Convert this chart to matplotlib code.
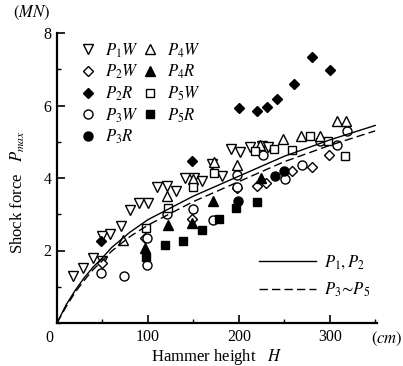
import matplotlib
matplotlib.use("Agg")
import matplotlib.pyplot as plt
from matplotlib.ticker import MultipleLocator

plt.rcParams['font.family'] = ['Liberation Serif', 'DejaVu Serif']
plt.rcParams['mathtext.fontset'] = 'stix'

# ---- data ----
P1W_x = [18, 29, 40, 49, 49, 58, 70, 80, 90, 100, 110, 121, 131, 141, 151, 160, 171, 182, 191, 201, 212, 225, 232]
P1W_y = [1.29, 1.52, 1.80, 1.72, 2.40, 2.45, 2.68, 3.12, 3.31, 3.30, 3.74, 3.79, 3.64, 4.00, 3.99, 3.93, 4.39, 4.06, 4.80, 4.71, 4.85, 4.88, 4.85]

P2W_x = [49, 97, 149, 198, 220, 230, 259, 280, 299]
P2W_y = [1.65, 2.35, 2.86, 3.72, 3.77, 3.87, 4.18, 4.29, 4.63]

P2R_x = [48, 149, 200, 220, 231, 242, 261, 280, 300]
P2R_y = [2.27, 4.48, 5.94, 5.84, 5.96, 6.17, 6.59, 7.35, 6.98]

P3W_x = [48, 74, 99, 99, 121, 150, 172, 198, 198, 227, 251, 270, 289, 308, 319]
P3W_y = [1.38, 1.29, 1.59, 2.35, 3.00, 3.14, 2.84, 3.74, 4.08, 4.64, 3.97, 4.37, 5.02, 4.90, 5.31]

P3R_x = [199, 240, 250]
P3R_y = [3.37, 4.05, 4.19]

P4W_x = [73, 121, 150, 173, 198, 223, 249, 268, 289, 308, 318]
P4W_y = [2.29, 3.50, 3.97, 4.45, 4.37, 4.90, 5.08, 5.15, 5.15, 5.56, 5.56]

P4R_x = [97, 122, 149, 172, 224]
P4R_y = [2.07, 2.70, 2.77, 3.37, 4.00]

P5W_x = [98, 122, 150, 173, 218, 239, 259, 278, 298, 317]
P5W_y = [2.62, 3.18, 3.74, 4.13, 4.74, 4.80, 4.76, 5.16, 5.02, 4.62]

P5R_x = [98, 119, 139, 159, 178, 197, 220]
P5R_y = [1.82, 2.14, 2.26, 2.57, 2.88, 3.18, 3.34]

# fitted curves, points
curve_x = [0, 10, 20, 30, 40, 50, 60, 80, 100, 150, 200, 250, 300, 350]
curve12_y = [0, 0.50, 0.90, 1.25, 1.55, 1.80, 2.08, 2.50, 2.85, 3.50, 4.05, 4.60, 5.05, 5.45]
curve35_y = [0, 0.45, 0.85, 1.18, 1.48, 1.72, 1.98, 2.38, 2.70, 3.35, 3.90, 4.45, 4.90, 5.30]

x_ticks = [0, 100, 200, 300]
y_ticks = [2, 4, 6, 8]

fig = plt.figure(figsize=(4.03, 3.66), dpi=100)
ax = fig.add_axes([57/403, 1-323/366, 320/403, 290/366])

ms = 6.5
kw_open = dict(linestyle='none', markerfacecolor='white', markeredgecolor='black', markeredgewidth=1.0, markersize=ms)
kw_fill = dict(linestyle='none', color='black', markersize=ms)

h = {}
h['P1W'], = ax.plot(P1W_x, P1W_y, marker='v', label=r'$P_1W$', **kw_open)
h['P2W'], = ax.plot(P2W_x, P2W_y, marker='D', label=r'$P_2W$', **{**kw_open, 'markersize': ms - 1})
h['P2R'], = ax.plot(P2R_x, P2R_y, marker='D', label=r'$P_2R$', **{**kw_fill, 'markersize': ms - 1})
h['P3W'], = ax.plot(P3W_x, P3W_y, marker='o', label=r'$P_3W$', **kw_open)
h['P3R'], = ax.plot(P3R_x, P3R_y, marker='o', label=r'$P_3R$', **kw_fill)
h['P4W'], = ax.plot(P4W_x, P4W_y, marker='^', label=r'$P_4W$', **kw_open)
h['P4R'], = ax.plot(P4R_x, P4R_y, marker='^', label=r'$P_4R$', **kw_fill)
h['P5W'], = ax.plot(P5W_x, P5W_y, marker='s', label=r'$P_5W$', **{**kw_open, 'markersize': ms - 1})
h['P5R'], = ax.plot(P5R_x, P5R_y, marker='s', label=r'$P_5R$', **{**kw_fill, 'markersize': ms - 1})

l1, = ax.plot(curve_x, curve12_y, color='black', lw=1.0, label=r'$P_1, P_2$')
l2, = ax.plot(curve_x, curve35_y, color='black', lw=1.0, ls=(0, (6, 3)), label=r'$P_3\!\sim\! P_5$')

order = ['P1W', 'P2W', 'P2R', 'P3W', 'P3R', 'P4W', 'P4R', 'P5W', 'P5R']
leg1 = ax.legend([h[k] for k in order], [h[k].get_label() for k in order], ncol=2,
                 loc='upper left', bbox_to_anchor=(0.05, 0.995), frameon=False,
                 fontsize=12, handlelength=1.0, handletextpad=0.5, columnspacing=0.2,
                 labelspacing=0.2, borderaxespad=0.0)
ax.add_artist(leg1)
ax.legend([l1, l2], [l1.get_label(), l2.get_label()], loc='lower right',
          bbox_to_anchor=(1.0, 0.06), frameon=False, fontsize=12, handlelength=3.4,
          handletextpad=0.5, labelspacing=0.55, borderaxespad=0.0)

ax.set_xlim(0, 352)
ax.set_ylim(0, 8)
ax.spines['top'].set_visible(False)
ax.spines['right'].set_visible(False)
ax.spines['left'].set_linewidth(1.6)
ax.spines['bottom'].set_linewidth(1.6)

ax.set_xticks(x_ticks)
ax.set_xticklabels(['' if t == 0 else str(t) for t in x_ticks])
ax.set_yticks(y_ticks)
ax.set_yticklabels([str(t) for t in y_ticks])
ax.xaxis.set_minor_locator(MultipleLocator(50))
ax.yaxis.set_minor_locator(MultipleLocator(1))
ax.tick_params(which='major', direction='in', length=6, width=1.2, labelsize=11.5, pad=4)
ax.tick_params(which='minor', direction='in', length=3, width=1.0)

ax.text(-0.01, -0.025, '0', transform=ax.transAxes, ha='right', va='top', fontsize=11.5)
ax.text(1.03, -0.025, r'$(cm)$', transform=ax.transAxes, ha='center', va='top', fontsize=12)
ax.text(-0.08, 1.07, r'$(MN)$', transform=ax.transAxes, ha='center', va='center', fontsize=12)
ax.set_xlabel(r'Hammer height   $H$', fontsize=12, labelpad=2)
ax.set_ylabel(r'Shock force   $P_{max}$', fontsize=12, labelpad=6)
ax.yaxis.set_label_coords(-0.095, 0.45)

fig.savefig('out.png', dpi=100)
